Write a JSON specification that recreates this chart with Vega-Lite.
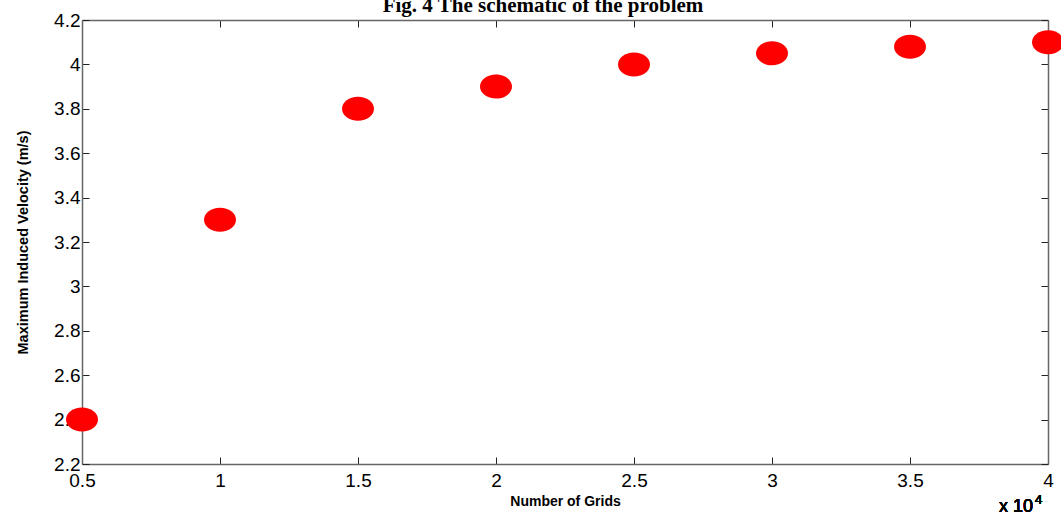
{
  "$schema": "https://vega.github.io/schema/vega-lite/v6.json",
  "autosize": {"type": "none"},
  "width": 966,
  "height": 444,
  "padding": {"left": 82, "top": 20, "right": 13, "bottom": 51},
  "background": "white",
  "title": {
    "text": "Fig. 4 The schematic of the problem",
    "font": "Liberation Serif",
    "fontSize": 21,
    "fontWeight": "bold",
    "color": "black",
    "anchor": "middle",
    "dx": -22,
    "baseline": "alphabetic",
    "offset": -22
  },
  "config": {
    "view": {"stroke": null},
    "axis": {
      "grid": false,
      "domainColor": "#666666",
      "domainWidth": 1.5,
      "tickColor": "#222222",
      "tickSize": -7,
      "labelFont": "Liberation Sans",
      "labelFontSize": 19,
      "labelColor": "black",
      "titleFont": "Liberation Sans",
      "titleFontWeight": "bold",
      "titleColor": "black"
    }
  },
  "data": {
    "values": [
      {"grids": 5000, "velocity": 2.4},
      {"grids": 10000, "velocity": 3.3},
      {"grids": 15000, "velocity": 3.8},
      {"grids": 20000, "velocity": 3.9},
      {"grids": 25000, "velocity": 4.0},
      {"grids": 30000, "velocity": 4.05},
      {"grids": 35000, "velocity": 4.08},
      {"grids": 40000, "velocity": 4.1}
    ]
  },
  "layer": [
    {
      "mark": {
        "type": "point",
        "filled": true,
        "opacity": 1,
        "color": "#ff0000",
        "size": 1024,
        "shape": "M-1,0 A1,0.75 0 1,0 1,0 A1,0.75 0 1,0 -1,0 Z"
      },
      "encoding": {
        "x": {
          "field": "grids",
          "type": "quantitative",
          "scale": {"domain": [5000, 40000], "nice": false, "zero": false},
          "axis": {
            "values": [5000, 10000, 15000, 20000, 25000, 30000, 35000, 40000],
            "labelExpr": "format(datum.value / 10000, '')",
            "labelPadding": 14,
            "labelFlush": false,
            "title": "Number of Grids",
            "titleFontSize": 14,
            "titlePadding": 4
          }
        },
        "y": {
          "field": "velocity",
          "type": "quantitative",
          "scale": {"domain": [2.2, 4.2], "nice": false, "zero": false},
          "axis": {
            "values": [2.2, 2.4, 2.6, 2.8, 3, 3.2, 3.4, 3.6, 3.8, 4, 4.2],
            "labelExpr": "format(datum.value, '')",
            "labelPadding": 9,
            "labelFlush": false,
            "title": "Maximum Induced Velocity (m/s)",
            "titleFontSize": 14.5,
            "titlePadding": 23
          }
        }
      }
    },
    {
      "mark": {"type": "point", "opacity": 0},
      "encoding": {
        "x": {
          "field": "grids",
          "type": "quantitative",
          "axis": {
            "orient": "top",
            "values": [5000, 10000, 15000, 20000, 25000, 30000, 35000, 40000],
            "labels": false,
            "title": null
          }
        },
        "y": {
          "field": "velocity",
          "type": "quantitative",
          "axis": {
            "orient": "right",
            "values": [2.2, 2.4, 2.6, 2.8, 3, 3.2, 3.4, 3.6, 3.8, 4, 4.2],
            "labels": false,
            "title": null
          }
        }
      }
    },
    {
      "mark": {"type": "text", "font": "Liberation Sans", "fontSize": 18, "align": "right", "baseline": "alphabetic", "dy": 48, "dx": -15, "color": "black"},
      "encoding": {
        "x": {"datum": 40000, "type": "quantitative", "axis": null},
        "y": {"datum": 2.2, "type": "quantitative", "axis": null},
        "text": {"value": "x 10"}
      }
    },
    {
      "mark": {"type": "text", "font": "Liberation Sans", "fontSize": 13, "align": "left", "baseline": "alphabetic", "dy": 40, "dx": -13, "color": "black"},
      "encoding": {
        "x": {"datum": 40000, "type": "quantitative", "axis": null},
        "y": {"datum": 2.2, "type": "quantitative", "axis": null},
        "text": {"value": "4"}
      }
    }
  ],
  "resolve": {"axis": {"x": "independent", "y": "independent"}}
}
